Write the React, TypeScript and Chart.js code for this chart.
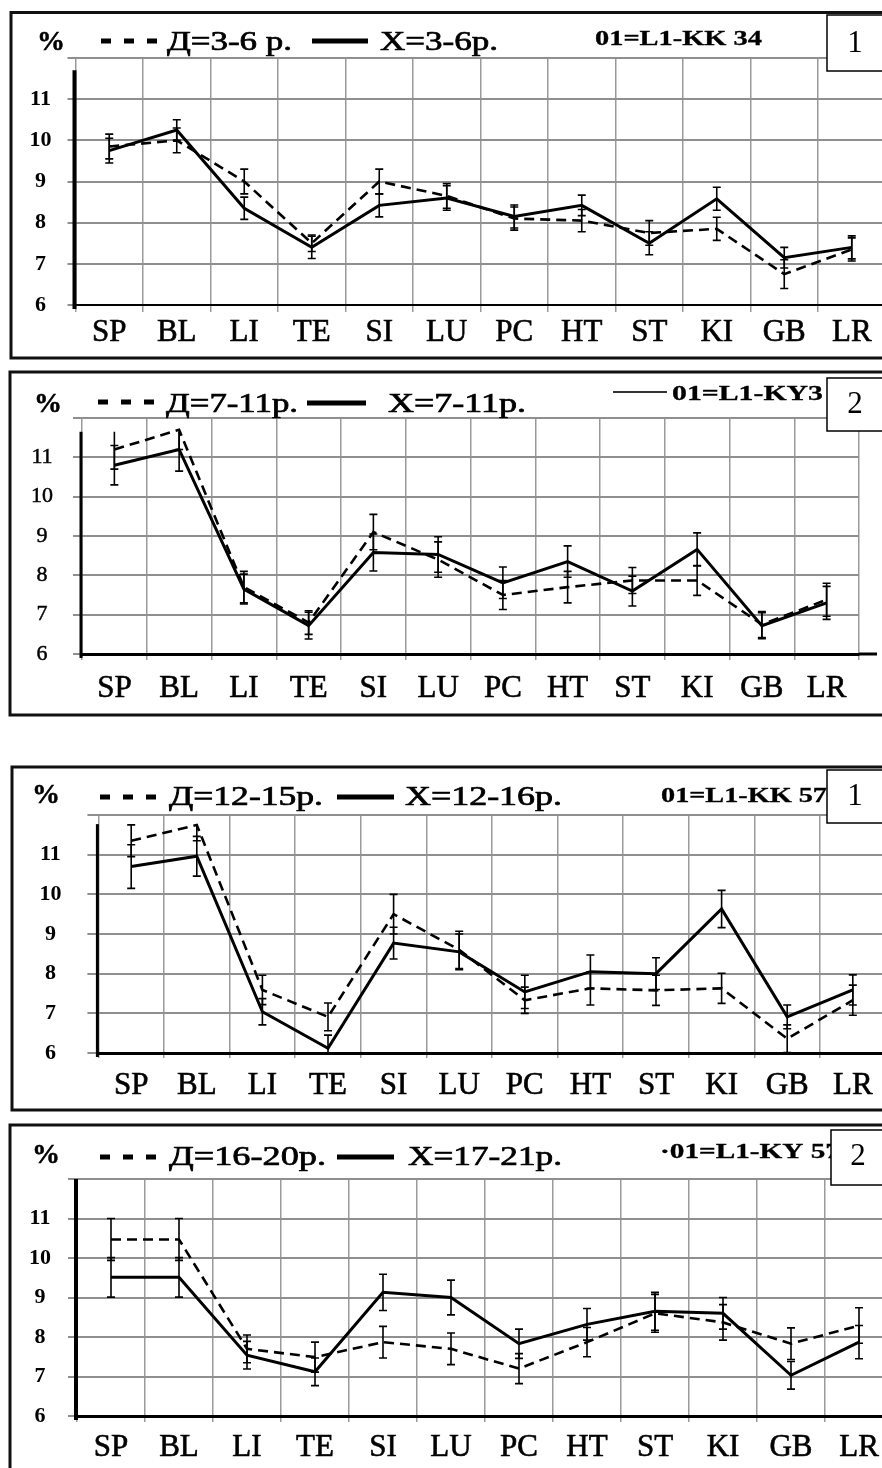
import React, { useEffect, useRef } from 'react';
import { Chart, registerables } from 'chart.js';

Chart.register(...registerables);

// ---------- data ----------
const categories = ['SP', 'BL', 'LI', 'TE', 'SI', 'LU', 'PC', 'HT', 'ST', 'KI', 'GB', 'LR'];
const yTickLabels = ['6', '7', '8', '9', '10', '11'];

// Panel 1 (3-6)
const girls1 = [9.85, 10.0, 9.0, 7.5, 9.0, 8.65, 8.1, 8.05, 7.75, 7.85, 6.75, 7.35];
const boys1 = [9.75, 10.25, 8.35, 7.4, 8.42, 8.6, 8.15, 8.42, 7.5, 8.58, 7.15, 7.4];
const girlsErr1 = [0.3, 0.3, 0.3, 0.2, 0.3, 0.3, 0.28, 0.27, 0.3, 0.28, 0.35, 0.28];
const boysErr1 = [0.3, 0.25, 0.27, 0.27, 0.28, 0.3, 0.28, 0.25, 0.28, 0.28, 0.25, 0.28];

// Panel 2 (7-11)
const girls2 = [11.2, 11.7, 7.7, 6.8, 9.1, 8.4, 7.5, 7.7, 7.87, 7.87, 6.75, 7.38];
const boys2 = [10.8, 11.2, 7.65, 6.72, 8.58, 8.53, 7.81, 8.35, 7.6, 8.66, 6.72, 7.3];
const girlsErr2 = [0.5, 0.5, 0.4, 0.3, 0.45, 0.45, 0.37, 0.4, 0.33, 0.38, 0.33, 0.42];
const boysErr2 = [0.5, 0.55, 0.38, 0.34, 0.47, 0.45, 0.4, 0.4, 0.38, 0.42, 0.33, 0.42];

// Panel 3 (12-15 / 12-16)
const girls3 = [11.35, 11.75, 7.59, 6.91, 9.5, 8.6, 7.33, 7.63, 7.58, 7.63, 6.36, 7.33];
const boys3 = [10.7, 10.96, 7.04, 6.12, 8.77, 8.55, 7.54, 8.05, 8.0, 9.63, 6.91, 7.59];
const girlsErr3 = [0.4, 0.4, 0.37, 0.35, 0.5, 0.47, 0.33, 0.42, 0.38, 0.38, 0.35, 0.38];
const boysErr3 = [0.55, 0.5, 0.33, 0.33, 0.4, 0.45, 0.42, 0.42, 0.4, 0.47, 0.3, 0.38];

// Panel 4 (16-20 / 17-21)
const girls4 = [10.47, 10.47, 7.7, 7.49, 7.87, 7.7, 7.2, 7.87, 8.6, 8.37, 7.83, 8.29];
const boys4 = [9.51, 9.51, 7.54, 7.12, 9.13, 9.0, 7.83, 8.32, 8.65, 8.6, 7.03, 7.87];
const girlsErr4 = [0.53, 0.53, 0.35, 0.38, 0.4, 0.4, 0.38, 0.37, 0.48, 0.45, 0.4, 0.45];
const boysErr4 = [0.5, 0.5, 0.35, 0.35, 0.46, 0.44, 0.37, 0.4, 0.48, 0.4, 0.35, 0.42];

const girlsLegend = ['Д=3-6 р.', 'Д=7-11р.', 'Д=12-15р.', 'Д=16-20р.'];
const boysLegend = ['Х=3-6р.', 'Х=7-11р.', 'Х=12-16р.', 'Х=17-21р.'];
const codeLabels = ['01=L1-KK 34', '01=L1-KY3', '01=L1-KK 57', '·01=L1-KY 57'];
const panelNumbers = ['1', '2', '1', '2'];

// ---------- layout / style ----------
const SERIF = "'Liberation Serif', 'Times New Roman', serif";
const CW = 900;
const YW = 70;

const layouts: any[] = [
  {
    top: 0, height: 364,
    area: { left: 75.5, right: 885.5, top: 58, bottom: 305 },
    axisTop: 11.7, yLineW: 4, xLineW: 2, xExtend: 0,
    yTickLen: 8, yTickPad: 16, yBold: true, xTickLen: 7, xTickPad: 2,
    border: { left: 11, top: 12.5, bottom: 358 },
    pct: { x: 37, y: 50 }, dash: { x1: 101, x2: 157, y: 41 },
    girls: { x: 167, y: 50, w: 125 }, solid: { x1: 312, x2: 368, y: 41 },
    boys: { x: 380, y: 50, w: 118 }, code: { x: 595, y: 45, w: 167 },
    box: { x: 827, y: 15, h: 56 }, num: { x: 855, y: 52 },
  },
  {
    top: 365, height: 370,
    area: { left: 82, right: 859, top: 53, bottom: 289 },
    axisTop: 11.65, yLineW: 3, xLineW: 3, xExtend: 18,
    yTickLen: 9, yTickPad: 20, yBold: false, xTickLen: 6, xTickPad: 10,
    border: { left: 10, top: 7, bottom: 350 },
    pct: { x: 34, y: 47 }, dash: { x1: 98, x2: 157, y: 37 },
    girls: { x: 166, y: 47, w: 132 }, solid: { x1: 307, x2: 366, y: 38 },
    boys: { x: 388, y: 47, w: 138 }, codeLine: { x1: 613, x2: 667, y: 27 },
    code: { x: 672, y: 35, w: 151 },
    box: { x: 827, y: 13, h: 53 }, num: { x: 855, y: 48 },
  },
  {
    top: 745, height: 370,
    area: { left: 98.4, right: 885.6, top: 70, bottom: 308 },
    axisTop: 11.77, yLineW: 3, xLineW: 3, xExtend: 0,
    yTickLen: 11, yTickPad: 26, yBold: true, xTickLen: 5, xTickPad: 9,
    border: { left: 12, top: 22, bottom: 365 },
    pct: { x: 32, y: 58 }, dash: { x1: 100, x2: 157, y: 52 },
    girls: { x: 169, y: 60, w: 154 }, solid: { x1: 337, x2: 394, y: 52 },
    boys: { x: 405, y: 60, w: 157 }, code: { x: 661, y: 57, w: 166 },
    box: { x: 827, y: 25, h: 53 }, num: { x: 855, y: 60 },
  },
  {
    top: 1115, height: 353,
    area: { left: 77, right: 893, top: 64, bottom: 301 },
    axisTop: 12, yLineW: 4, xLineW: 3, xExtend: 0,
    yTickLen: 9, yTickPad: 17, yBold: true, xTickLen: 6, xTickPad: 7,
    border: { left: 10, top: 10, bottom: 500 },
    pct: { x: 32, y: 48 }, dash: { x1: 100, x2: 157, y: 42 },
    girls: { x: 169, y: 50, w: 157 }, solid: { x1: 337, x2: 394, y: 42 },
    boys: { x: 408, y: 50, w: 154 }, code: { x: 660, y: 43, w: 180 },
    box: { x: 831, y: 15, h: 55 }, num: { x: 858, y: 50 },
  },
];

const panels = [
  { girls: girls1, boys: boys1, girlsErr: girlsErr1, boysErr: boysErr1 },
  { girls: girls2, boys: boys2, girlsErr: girlsErr2, boysErr: boysErr2 },
  { girls: girls3, boys: boys3, girlsErr: girlsErr3, boysErr: boysErr3 },
  { girls: girls4, boys: boys4, girlsErr: girlsErr4, boysErr: boysErr4 },
];

function drawText(ctx: CanvasRenderingContext2D, text: string, x: number, y: number, font: string, width?: number, stroke = 0.5) {
  ctx.save();
  ctx.font = font;
  ctx.fillStyle = '#000';
  ctx.strokeStyle = '#000';
  ctx.textAlign = 'left';
  ctx.textBaseline = 'alphabetic';
  const w = ctx.measureText(text).width;
  const sx = width ? width / w : 1;
  ctx.translate(x, y);
  ctx.scale(sx, 1);
  ctx.fillText(text, 0, 0);
  if (stroke > 0) {
    ctx.lineWidth = stroke;
    ctx.setLineDash([]);
    ctx.strokeText(text, 0, 0);
  }
  ctx.restore();
}

function makeErrorBars(L: any) {
  return {
    id: 'errorBars',
    afterDatasetsDraw(chart: any) {
      const { ctx, chartArea } = chart;
      const ys = chart.scales.y;
      const clipTop = ys.getPixelForValue(L.axisTop);
      ctx.save();
      ctx.beginPath();
      ctx.rect(chartArea.left, clipTop, chartArea.right - chartArea.left, chartArea.bottom - clipTop + 2);
      ctx.clip();
      ctx.strokeStyle = '#000';
      ctx.lineWidth = 1.6;
      ctx.setLineDash([]);
      chart.data.datasets.forEach((ds: any, i: number) => {
        const meta = chart.getDatasetMeta(i);
        meta.data.forEach((pt: any, j: number) => {
          const v = ds.data[j];
          const e = ds.errors[j];
          const x = pt.x;
          const y1 = ys.getPixelForValue(v + e);
          const y2 = ys.getPixelForValue(v - e);
          ctx.beginPath();
          ctx.moveTo(x, y1); ctx.lineTo(x, y2);
          ctx.moveTo(x - 4, y1); ctx.lineTo(x + 4, y1);
          ctx.moveTo(x - 4, y2); ctx.lineTo(x + 4, y2);
          ctx.stroke();
        });
      });
      ctx.restore();
    },
  };
}

function makeDecor(L: any, idx: number) {
  return {
    id: 'decor',
    afterDraw(chart: any) {
      const { ctx, chartArea } = chart;
      const ys = chart.scales.y;
      ctx.save();
      ctx.setLineDash([]);
      // y axis line
      ctx.strokeStyle = '#000';
      ctx.lineWidth = L.yLineW;
      ctx.beginPath();
      ctx.moveTo(chartArea.left - 1, ys.getPixelForValue(L.axisTop));
      ctx.lineTo(chartArea.left - 1, ys.getPixelForValue(6) + 4);
      ctx.stroke();
      // x axis extension past the last category
      if (L.xExtend) {
        ctx.lineWidth = L.xLineW;
        ctx.beginPath();
        ctx.moveTo(chartArea.right, chartArea.bottom);
        ctx.lineTo(chartArea.right + L.xExtend, chartArea.bottom);
        ctx.stroke();
      }

      // panel border
      ctx.strokeStyle = '#111';
      ctx.lineWidth = 3;
      ctx.strokeRect(L.border.left, L.border.top, 1200, L.border.bottom - L.border.top);

      // legend row
      drawText(ctx, '%', L.pct.x, L.pct.y, `bold 28px ${SERIF}`);
      ctx.strokeStyle = '#000';
      ctx.lineWidth = 5;
      ctx.setLineDash([10, 13]);
      ctx.beginPath();
      ctx.moveTo(L.dash.x1, L.dash.y); ctx.lineTo(L.dash.x2, L.dash.y);
      ctx.stroke();
      ctx.setLineDash([]);
      ctx.beginPath();
      ctx.moveTo(L.solid.x1, L.solid.y); ctx.lineTo(L.solid.x2, L.solid.y);
      ctx.stroke();
      drawText(ctx, girlsLegend[idx], L.girls.x, L.girls.y, `27px ${SERIF}`, L.girls.w, 0.7);
      drawText(ctx, boysLegend[idx], L.boys.x, L.boys.y, `27px ${SERIF}`, L.boys.w, 0.7);
      if (L.codeLine) {
        ctx.strokeStyle = '#333';
        ctx.lineWidth = 2;
        ctx.beginPath();
        ctx.moveTo(L.codeLine.x1, L.codeLine.y); ctx.lineTo(L.codeLine.x2, L.codeLine.y);
        ctx.stroke();
      }
      drawText(ctx, codeLabels[idx], L.code.x, L.code.y, `bold 21px ${SERIF}`, L.code.w, 0.3);

      // number box
      ctx.fillStyle = '#fff';
      ctx.fillRect(L.box.x, L.box.y, 200, L.box.h);
      ctx.strokeStyle = '#000';
      ctx.lineWidth = 1.5;
      ctx.strokeRect(L.box.x, L.box.y, 200, L.box.h);
      ctx.fillStyle = '#000';
      ctx.font = `31px ${SERIF}`;
      ctx.textAlign = 'center';
      ctx.textBaseline = 'alphabetic';
      ctx.fillText(panelNumbers[idx], L.num.x, L.num.y);
      ctx.restore();
    },
  };
}

function Panel({ idx }: { idx: number }) {
  const ref = useRef<HTMLCanvasElement>(null);
  const L = layouts[idx];
  const P = panels[idx];
  useEffect(() => {
    const canvas = ref.current!;
    const chart = new Chart(canvas, {
      type: 'line',
      data: {
        labels: categories,
        datasets: [
          {
            label: girlsLegend[idx], data: P.girls, errors: P.girlsErr,
            borderColor: '#000', borderWidth: 2.6, borderDash: [10, 6],
            pointRadius: 0, fill: false, tension: 0,
          } as any,
          {
            label: boysLegend[idx], data: P.boys, errors: P.boysErr,
            borderColor: '#000', borderWidth: 3,
            pointRadius: 0, fill: false, tension: 0,
          } as any,
        ],
      },
      options: {
        responsive: false,
        animation: false,
        devicePixelRatio: 1,
        layout: { padding: { left: L.area.left - YW, right: CW - L.area.right, top: L.area.top, bottom: 0 } },
        plugins: { legend: { display: false }, tooltip: { enabled: false }, title: { display: false } },
        scales: {
          x: {
            type: 'category',
            offset: true,
            grid: { offset: true, color: '#9a9a9a', lineWidth: 1.5, drawTicks: true, tickLength: L.xTickLen, tickColor: '#9a9a9a' },
            border: { display: true, color: '#000', width: L.xLineW },
            ticks: {
              color: '#000', padding: L.xTickPad, font: { family: SERIF, size: 31 },
              maxRotation: 0, minRotation: 0, autoSkip: false,
              textStrokeColor: '#000', textStrokeWidth: 0.6,
            },
            afterFit: (s: any) => { s.height = L.height - L.area.bottom; },
          },
          y: {
            type: 'linear',
            min: 6,
            max: 12,
            grid: { color: '#8f8f8f', lineWidth: 2, drawTicks: true, tickLength: L.yTickLen, tickColor: '#8f8f8f' },
            border: { display: false },
            ticks: {
              stepSize: 1,
              color: '#000',
              padding: L.yTickPad,
              crossAlign: 'center',
              font: { family: SERIF, size: 22, weight: L.yBold ? 'bold' : 'normal' },
              textStrokeColor: '#000', textStrokeWidth: L.yBold ? 0 : 0.5,
              callback: (v: any) => {
                const s = String(v);
                return yTickLabels.indexOf(s) >= 0 ? s : '';
              },
            },
            afterFit: (s: any) => { s.width = YW; },
          },
        },
      } as any,
      plugins: [makeErrorBars(L), makeDecor(L, idx)],
    });
    return () => chart.destroy();
  }, []);
  return (
    <canvas
      ref={ref}
      width={CW}
      height={L.height}
      style={{ position: 'absolute', left: 0, top: L.top, width: CW, height: L.height, display: 'block' }}
    />
  );
}

export default function App() {
  return (
    <div style={{ position: 'absolute', left: 0, top: 0, width: 882, height: 1468, overflow: 'hidden', background: '#fff' }}>
      {panels.map((_, i) => (
        <Panel key={i} idx={i} />
      ))}
    </div>
  );
}
